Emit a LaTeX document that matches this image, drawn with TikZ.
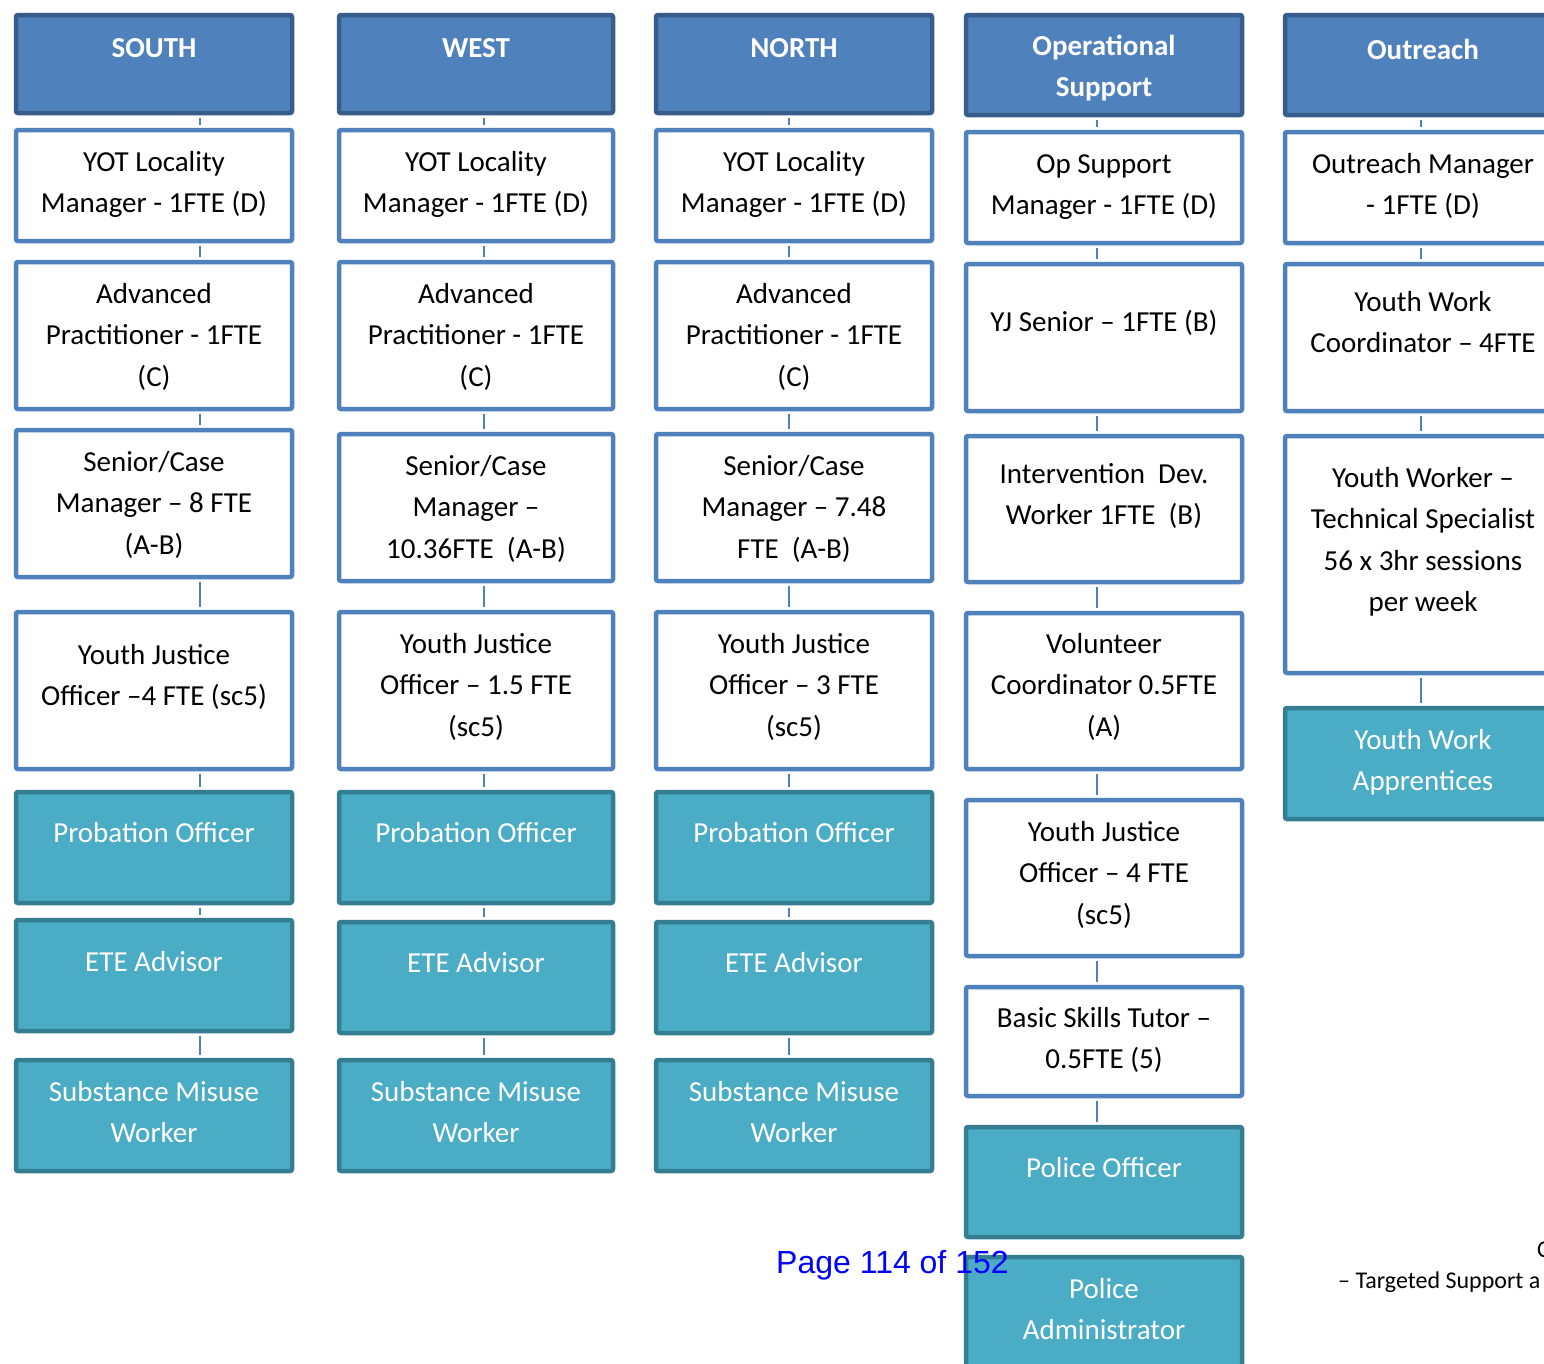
\documentclass[tikz,border=0pt]{standalone}
\usepackage{fontspec}
\setmainfont{Carlito}
\newfontfamily\arialf{Liberation Sans}
\definecolor{hdFill}{HTML}{4F81BD}
\definecolor{hdBorder}{HTML}{385D8A}
\definecolor{wbBorder}{HTML}{4F81BD}
\definecolor{tbFill}{HTML}{4BACC6}
\definecolor{tbBorder}{HTML}{357D91}
\newcommand\boxfont{\fontsize{29}{41.6}\selectfont}
\tikzset{
  hd/.style={draw=hdBorder, fill=hdFill, line width=4.5pt, rounded corners=2pt, inner sep=0pt},
  hdtxt/.style={font=\boxfont\bfseries, text=white, inner sep=0pt},
  wb/.style={draw=wbBorder, fill=white, line width=4.5pt, rounded corners=2pt, inner sep=0pt},
  wbtxt/.style={font=\boxfont, text=black, inner sep=0pt},
  tb/.style={draw=tbBorder, fill=tbFill, line width=4.5pt, rounded corners=2pt, inner sep=0pt},
  tbtxt/.style={font=\boxfont, text=white, inner sep=0pt},
  conn/.style={draw=wbBorder, line width=2pt, shorten <=2.3pt, shorten >=2.3pt},
}
% #1 style, #2 name, #3 x1, #4 y1, #5 x2, #6 y2, #7 first baseline y, #8 text
\newcommand\ob[8]{%
  \node[#1, minimum width={#5-#3}, minimum height={#6-#4}] (#2) at ({(#3+#5)/2},{(#4+#6)/2}) {};
  \node[#1txt, anchor=base] at ({(#3+#5)/2},#7) {\parbox[t]{300pt}{\centering #8}};}
\begin{document}
\begin{tikzpicture}[x=1pt, y=-1pt]
\useasboundingbox (0,0) rectangle (1544,1363);
\fill[white] (0,0) rectangle (1544,1363);
% column 1 SOUTH
\ob{hd}{a0}{16}{15}{292}{113}{57}{SOUTH}
\ob{wb}{a1}{16}{130}{292}{241}{171}{YOT Locality\\Manager - 1FTE (D)}
\ob{wb}{a2}{16}{262}{292}{409}{303}{Advanced\\Practitioner - 1FTE\\(C)}
\ob{wb}{a3}{16}{430}{292}{577}{471}{Senior/Case\\Manager – 8 FTE\\(A-B)}
\ob{wb}{a4}{16}{612}{292}{769}{664}{Youth Justice\\Officer –4 FTE (sc5)}
\ob{tb}{a5}{16}{792}{292}{903}{842}{Probation Officer}
\ob{tb}{a6}{16}{920}{292}{1031}{971}{ETE Advisor}
\ob{tb}{a7}{16}{1060}{292}{1171}{1101}{Substance Misuse\\Worker}
% column 2 WEST
\ob{hd}{b0}{339}{15}{613}{113}{57}{WEST}
\ob{wb}{b1}{339}{130}{613}{241}{171}{YOT Locality\\Manager - 1FTE (D)}
\ob{wb}{b2}{339}{262}{613}{409}{303}{Advanced\\Practitioner - 1FTE\\(C)}
\ob{wb}{b3}{339}{434}{613}{581}{475}{Senior/Case\\Manager –\\10.36FTE~~(A-B)}
\ob{wb}{b4}{339}{612}{613}{769}{653}{Youth Justice\\Officer – 1.5 FTE\\(sc5)}
\ob{tb}{b5}{339}{792}{613}{903}{842}{Probation Officer}
\ob{tb}{b6}{339}{922}{613}{1033}{972}{ETE Advisor}
\ob{tb}{b7}{339}{1060}{613}{1171}{1101}{Substance Misuse\\Worker}
% column 3 NORTH
\ob{hd}{c0}{656}{15}{932}{113}{57}{NORTH}
\ob{wb}{c1}{656}{130}{932}{241}{171}{YOT Locality\\Manager - 1FTE (D)}
\ob{wb}{c2}{656}{262}{932}{409}{303}{Advanced\\Practitioner - 1FTE\\(C)}
\ob{wb}{c3}{656}{434}{932}{581}{475}{Senior/Case\\Manager – 7.48\\FTE~~(A-B)}
\ob{wb}{c4}{656}{612}{932}{769}{653}{Youth Justice\\Officer – 3 FTE\\(sc5)}
\ob{tb}{c5}{656}{792}{932}{903}{842}{Probation Officer}
\ob{tb}{c6}{656}{922}{932}{1033}{972}{ETE Advisor}
\ob{tb}{c7}{656}{1060}{932}{1171}{1101}{Substance Misuse\\Worker}
% column 4 Operational Support
\ob{hd}{d0}{966}{15}{1242}{115}{55}{Operational\\Support}
\ob{wb}{d1}{966}{132}{1242}{243}{173}{Op Support\\Manager - 1FTE (D)}
\ob{wb}{d2}{966}{264}{1242}{411}{331}{YJ Senior – 1FTE (B)}
\ob{wb}{d3}{966}{436}{1242}{582}{483}{Intervention~~Dev.\\Worker 1FTE~~(B)}
\ob{wb}{d4}{966}{613}{1242}{769}{653}{Volunteer\\Coordinator 0.5FTE\\(A)}
\ob{wb}{d5}{966}{800}{1242}{956}{841}{Youth Justice\\Officer – 4 FTE\\(sc5)}
\ob{wb}{d6}{966}{987}{1242}{1096}{1027}{Basic Skills Tutor –\\0.5FTE (5)}
\ob{tb}{d7}{966}{1127}{1242}{1237}{1177}{Police Officer}
\ob{tb}{d8}{966}{1257}{1242}{1390}{1298}{Police\\Administrator}
% column 5 Outreach
\ob{hd}{e0}{1285}{15}{1561}{115}{59}{Outreach}
\ob{wb}{e1}{1285}{132}{1561}{243}{173}{Outreach Manager\\- 1FTE (D)}
\ob{wb}{e2}{1285}{264}{1561}{411}{311}{Youth Work\\Coordinator – 4FTE}
\ob{wb}{e3}{1285}{436}{1561}{673}{487}{Youth Worker –\\Technical Specialist\\56 x 3hr sessions\\per week}
\ob{tb}{e4}{1285}{708}{1561}{819}{749}{Youth Work\\Apprentices}
% connector columns
\coordinate (ka) at (200,0);
\coordinate (kb) at (484,0);
\coordinate (kc) at (789,0);
\coordinate (kd) at (1097,0);
\coordinate (ke) at (1421,0);
\foreach \c in {a,b,c}{
  \foreach \i [evaluate=\i as \j using int(\i+1)] in {0,...,6}{
    \draw[conn] (\c\i.south -| k\c) -- (\c\j.north -| k\c);
  }
}
\foreach \i [evaluate=\i as \j using int(\i+1)] in {0,...,6}{
  \draw[conn] (d\i.south -| kd) -- (d\j.north -| kd);
}
\foreach \i [evaluate=\i as \j using int(\i+1)] in {0,...,3}{
  \draw[conn] (e\i.south -| ke) -- (e\j.north -| ke);
}
% stray texts
\node[font=\fontsize{24}{30}\selectfont, anchor=base west, inner sep=0pt] (t1) at (1537,1257) {C};
\node[font=\fontsize{24}{30}\selectfont, anchor=base west, inner sep=0pt] (t2) at (1338,1288) {– Targeted Support a};
\node[font=\arialf\fontsize{32}{38}\selectfont, text={rgb,255:red,0;green,0;blue,255}, anchor=base west, inner sep=0pt] (pg) at (776,1273) {Page 114 of 152};
\end{tikzpicture}
\end{document}
